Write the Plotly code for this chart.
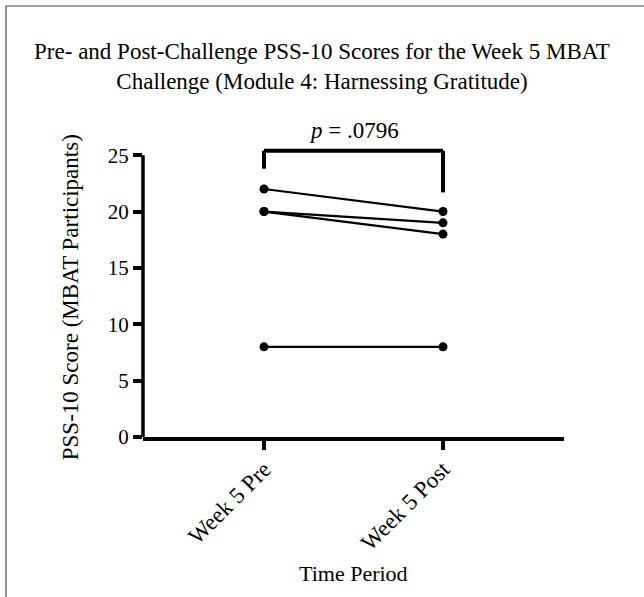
import plotly.graph_objects as go

categories = ["Week 5 Pre", "Week 5 Post"]
pre_scores = [22, 20, 20, 8]
post_scores = [20, 19, 18, 8]
y_ticks = [0, 5, 10, 15, 20, 25]
p_label = "<i>p</i> = .0796"
bracket_top = 25.4
bracket_left_end = 23.8
bracket_right_end = 21.7
p_text_y = 27.2

FONT = "Liberation Serif"

W, H = 644, 597
L, R, T, B = 143, 80, 127, 160
Y_MAX = 27.5

fig = go.Figure()
for a, b in zip(pre_scores, post_scores):
    fig.add_trace(go.Scatter(
        x=categories, y=[a, b], mode="lines+markers",
        line=dict(color="black", width=2.2),
        marker=dict(color="black", size=9),
        showlegend=False, cliponaxis=False,
    ))

pw = W - L - R
ph = H - T - B

def px_to_paper_x(px):
    return (px - L) / pw

def px_to_paper_y(py):
    return (H - B - py) / ph

shapes = [
    dict(type="line", xref="paper", yref="y", x0=0, x1=0, y0=0, y1=max(y_ticks),
         line=dict(color="black", width=3.5)),
    dict(type="line", xref="x", yref="y", x0=categories[0], x1=categories[1],
         y0=bracket_top, y1=bracket_top, line=dict(color="black", width=4)),
    dict(type="line", xref="x", yref="y", x0=categories[0], x1=categories[0],
         y0=bracket_top, y1=bracket_left_end, line=dict(color="black", width=4)),
    dict(type="line", xref="x", yref="y", x0=categories[1], x1=categories[1],
         y0=bracket_top, y1=bracket_right_end, line=dict(color="black", width=4)),
    dict(type="line", xref="paper", yref="paper",
         x0=px_to_paper_x(6), x1=px_to_paper_x(6),
         y0=px_to_paper_y(6), y1=px_to_paper_y(H + 5),
         line=dict(color="#444444", width=1.2)),
    dict(type="line", xref="paper", yref="paper",
         x0=px_to_paper_x(6), x1=px_to_paper_x(W + 5),
         y0=px_to_paper_y(6), y1=px_to_paper_y(6),
         line=dict(color="#444444", width=1.2)),
]

annotations = [
    dict(text=p_label, x=0.5, xref="x", y=p_text_y, yref="y",
         showarrow=False, font=dict(family=FONT, size=23, color="black"),
         xanchor="center", yanchor="middle"),
    dict(text="PSS-10 Score (MBAT Participants)", textangle=-90,
         xref="paper", x=px_to_paper_x(70), yref="y", y=12.4,
         showarrow=False, font=dict(family=FONT, size=23, color="black"),
         xanchor="center", yanchor="middle"),
    dict(text="Time Period", xref="paper", x=0.5, yref="paper",
         y=px_to_paper_y(573), showarrow=False,
         font=dict(family=FONT, size=22, color="black"),
         xanchor="center", yanchor="middle"),
]

fig.update_layout(
    width=W, height=H,
    margin=dict(l=L, r=R, t=T, b=B),
    paper_bgcolor="white", plot_bgcolor="white",
    font=dict(family=FONT, color="black"),
    title=dict(
        text="Pre- and Post-Challenge PSS-10 Scores for the Week 5 MBAT<br>Challenge (Module 4: Harnessing Gratitude)",
        xref="container", x=0.5, xanchor="center",
        yref="container", y=1 - 59 / H, yanchor="middle",
        font=dict(family=FONT, size=23, color="black"),
    ),
    shapes=shapes,
    annotations=annotations,
    showlegend=False,
)

fig.update_xaxes(
    type="category", range=[-0.676, 1.676],
    showline=True, linecolor="black", linewidth=3.5,
    ticks="outside", ticklen=9, tickwidth=3.5, tickcolor="black",
    tickangle=-45, tickfont=dict(family=FONT, size=23, color="black"),
    ticklabelstandoff=-3,
    showgrid=False, zeroline=False,
)
fig.update_yaxes(
    range=[0, Y_MAX], tickvals=y_ticks,
    showline=False,
    ticks="outside", ticklen=9, tickwidth=3.5, tickcolor="black",
    tickfont=dict(family=FONT, size=21, color="black"),
    showgrid=False, zeroline=False,
)

fig.write_html("out.html", config={"displayModeBar": False},
               post_script="document.body.style.margin='0px';")
